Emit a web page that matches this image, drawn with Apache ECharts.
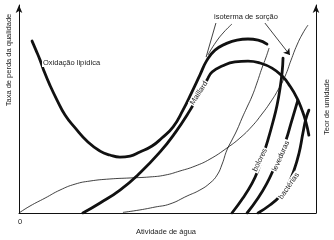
<!DOCTYPE html>
<html>
<head>
<meta charset="utf-8">
<script src="https://cdn.jsdelivr.net/npm/echarts@6/dist/echarts.min.js"></script>
<style>
html,body{margin:0;padding:0;background:#fff;}
#chart{width:334px;height:240px;}
</style>
</head>
<body>
<div id="chart"></div>
<script>
// water activity (0-100 % of axis) vs relative rate / moisture (0-100)
const oxidacaoLipidica = [[4.4,83.9],[5.7,79.5],[7.1,74.6],[8.4,69.3],[10.4,62.4],[12.8,55.1],[15.5,47.8],[18.9,41.5],[23.2,34.6],[27.3,30.2],[30.6,28.3],[34.0,27.3],[37.4,27.8],[40.7,29.8],[44.8,32.7],[48.1,36.6],[51.9,42.0],[55.2,50.2],[58.2,59.0],[60.9,67.3],[63.3,74.6],[66.0,79.5],[69.4,82.4],[73.4,84.4],[77.1,84.9],[80.5,84.4],[83.5,82.4]];
const maillard = [[21.5,0],[27.3,4.9],[34.0,11.2],[40.7,19.5],[47.5,29.8],[52.5,39.0],[57.6,50.2],[60.9,58.5],[63.3,64.9],[65.0,68.8],[68.4,71.7],[72.7,73.7],[77.1,74.1],[81.1,73.2],[85.2,70.7],[88.6,66.8],[91.2,62.0],[93.6,56.1],[95.3,50.2],[96.6,44.4],[97.6,38.0]];
const isotermaA = [[0,0],[3.7,3.4],[8.8,7.3],[13.8,11.2],[18.9,14.1],[23.9,15.6],[30.6,16.6],[37.4,17.1],[44.1,17.6],[49.2,18.5],[54.2,20.5],[59.3,22.9],[64.3,26.3],[70.0,31.7],[74.4,36.6],[78.5,42.4],[81.8,48.3],[84.5,53.7],[87.2,60.0],[89.6,66.8],[91.6,74.6],[93.6,82.0],[95.6,87.8],[97.3,91.7]];
const isotermaB = [[35.0,0.3],[40.7,1.5],[45.8,2.9],[50.8,4.4],[56.6,8.3],[60.9,11.2],[64.3,14.6],[66.7,18.5],[68.4,23.9],[70.0,30.7],[71.7,35.6],[73.4,40.5],[75.1,46.3],[76.8,51.7],[78.5,57.1],[80.1,63.4],[81.8,70.7],[83.2,76.1],[84.2,80.5]];
const bolores = [[71.7,0],[75.4,7.3],[78.5,14.6],[80.5,20.9],[82.2,28.3],[83.8,35.6],[85.5,44.4],[86.9,52.7],[87.9,61.0],[88.6,68.8],[88.9,75.6]];
const leveduras = [[76.8,0],[80.5,7.3],[83.5,14.6],[85.9,21.9],[87.9,28.3],[89.9,35.6],[91.6,43.9],[92.9,50.2],[93.9,55.1]];
const bacterias = [[80.5,0],[84.5,3.9],[87.9,8.3],[90.6,14.1],[92.6,20.9],[94.3,29.3],[95.6,39.0],[96.6,45.9],[97.6,50.2]];
const ponteiro1 = [[66.3,92.7],[63.0,76.1]];
const ponteiro2 = [[71.7,92.2],[69.0,88.3],[66.3,83.4],[63.6,77.1]];
const seta = [[82.8,92.7],[91.2,77.1]];
const xTickLabels = ['0'];

const chart = echarts.init(document.getElementById('chart'), null, {renderer:'canvas'});
const FONT = '"Liberation Sans", Arial, sans-serif';
const INK = '#111';

function thick(data){
  return {type:'line', data, smooth:0.5, showSymbol:false, symbol:'none', silent:true,
    lineStyle:{color:INK, width:2.8, cap:'round'}, z:3};
}
function thin(data, smooth){
  return {type:'line', data, smooth:smooth, showSymbol:false, symbol:'none', silent:true,
    lineStyle:{color:INK, width:0.8}, z:2};
}
function txt(text, x, y, rotDeg, opts){
  opts = opts || {};
  return {type:'text', x, y, rotation: (rotDeg||0)*Math.PI/180, z:100, silent:true,
    style:{text, x:0, y:0, fill:'#222', font: (opts.size||7.5)+'px '+FONT,
      align: opts.align||'center', verticalAlign:'middle',
      backgroundColor: opts.bg ? '#fff' : null, padding: opts.bg ? [0,1] : 0}};
}

const option = {
  animation:false,
  backgroundColor:'#fff',
  grid:{left:19, right:18, top:5, bottom:27, containLabel:false},
  xAxis:{type:'value', min:0, max:100,
    axisLine:{show:true, onZero:false, lineStyle:{color:INK, width:1}},
    axisTick:{show:false}, axisLabel:{show:false}, splitLine:{show:false}},
  yAxis:[
    {type:'value', min:0, max:101.5, position:'left',
      axisLine:{show:true, symbol:['none','arrow'], symbolSize:[5,8], lineStyle:{color:INK, width:1}},
      axisTick:{show:false}, axisLabel:{show:false}, splitLine:{show:false}},
    {type:'value', min:0, max:101.5, position:'right',
      axisLine:{show:true, symbol:['none','arrow'], symbolSize:[5,8], lineStyle:{color:INK, width:1}},
      axisTick:{show:false}, axisLabel:{show:false}, splitLine:{show:false}}
  ],
  series:[
    thin(isotermaA, 0.5),
    thin(isotermaB, 0.5),
    thin(ponteiro1, false),
    thin(ponteiro2, 0.5),
    {type:'lines', coordinateSystem:'cartesian2d', silent:true, z:2,
      symbol:['none','arrow'], symbolSize:6,
      lineStyle:{color:INK, width:0.8, opacity:1},
      data:[{coords:seta}]},
    thick(oxidacaoLipidica),
    thick(maillard),
    thick(bolores),
    thick(leveduras),
    thick(bacterias)
  ],
  graphic:[
    txt('Oxidação lipídica', 42, 63, 0, {align:'left', bg:true}),
    txt('isoterma de sorção', 246, 17, 0, {bg:true}),
    txt('Maillard', 199, 93, 57, {bg:true}),
    txt('bolores', 260, 160, 64, {bg:true}),
    txt('leveduras', 281, 156, 66, {bg:true}),
    txt('bactérias', 289, 186, 55, {bg:true}),
    txt('Taxa de perda da qualidade', 9, 60, 90),
    txt('Teor de umidade', 327, 107, 90),
    txt(xTickLabels[0], 20, 222, 0),
    txt('Atividade de água', 166, 232, 0)
  ]
};
chart.setOption(option);
</script>
</body>
</html>
